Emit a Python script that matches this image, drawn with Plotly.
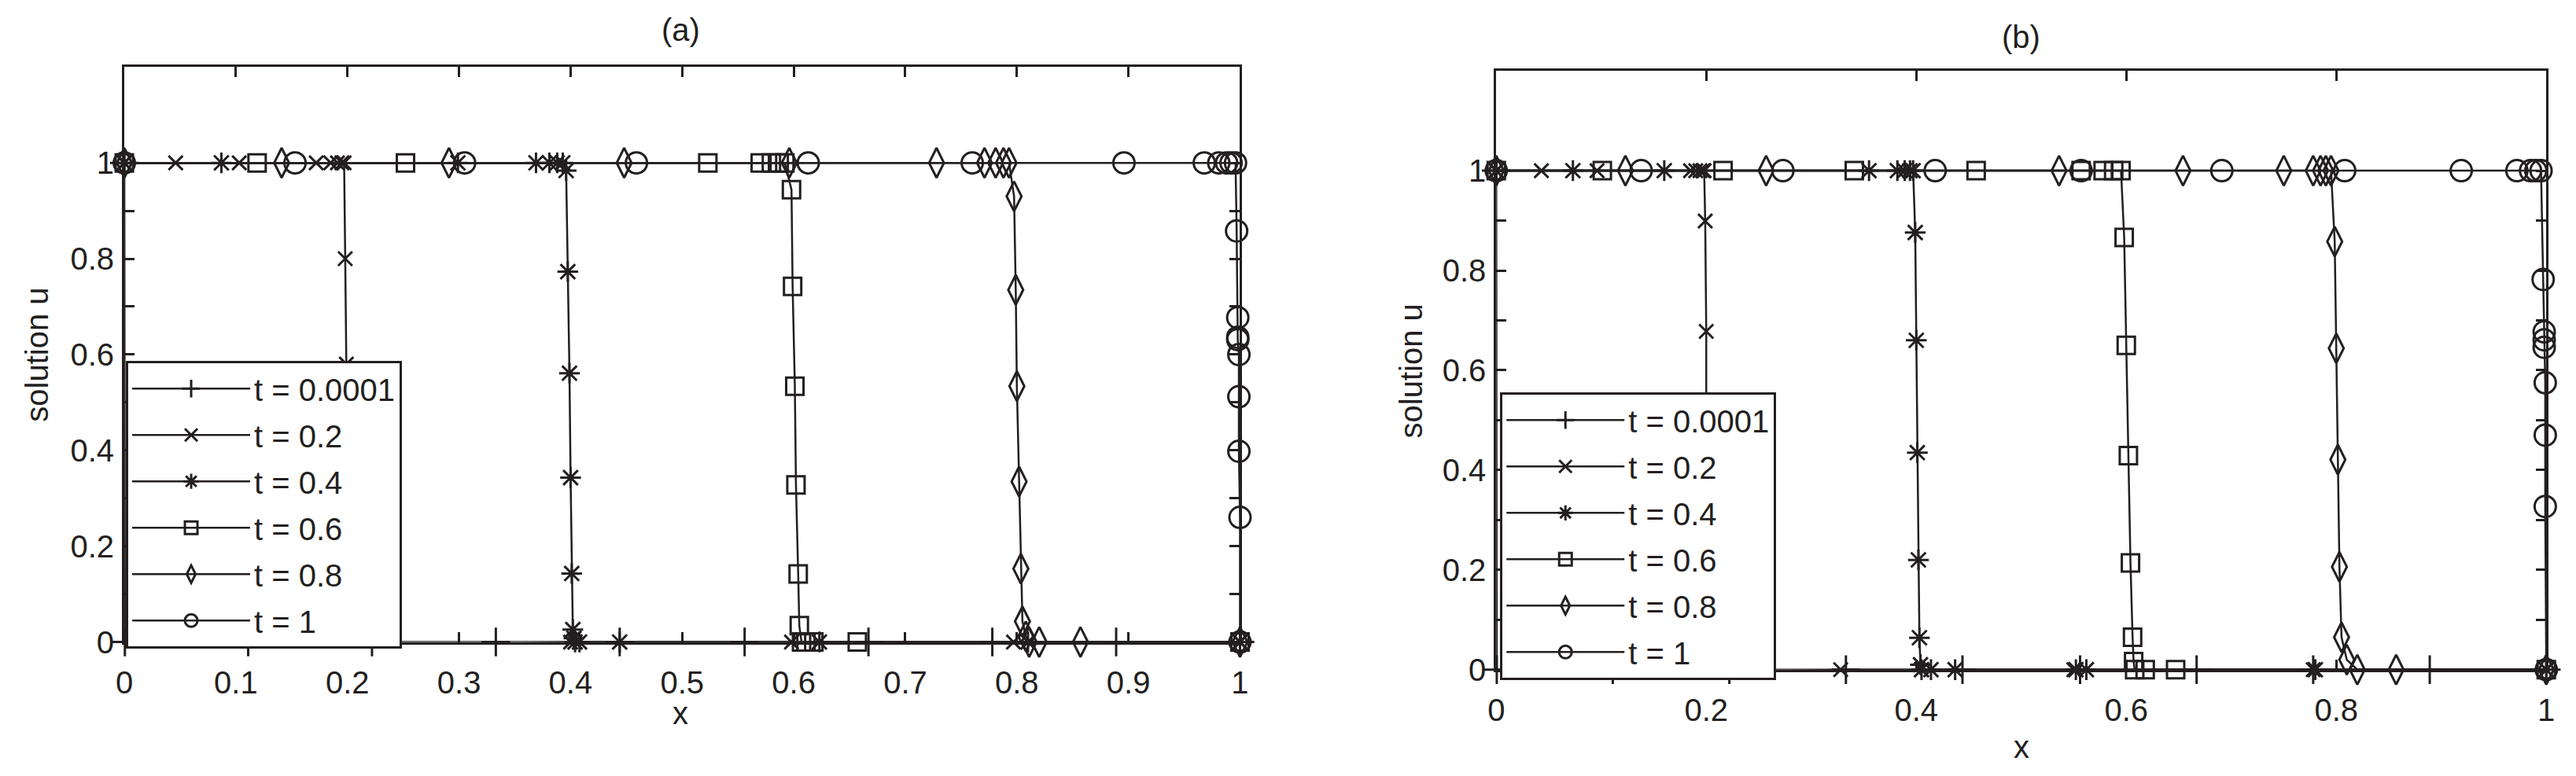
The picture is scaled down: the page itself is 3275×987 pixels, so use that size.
import plotly.graph_objects as go

W, H = 3275, 987
INK = "#231f20"
FONT = "Liberation Sans, Arial, sans-serif"

labels = ["t = 0.0001", "t = 0.2", "t = 0.4", "t = 0.6", "t = 0.8", "t = 1"]
symbols = ["cross-thin", "x-thin", "asterisk", "square-open", "diamond-tall-open", "circle-open"]
msizes = [26, 18, 22, 22, 27, 27]

# ---- panel (a) ----
xa_0001 = [0, 0.0005, 0.111, 0.222, 0.333, 0.444, 0.556, 0.667, 0.778, 0.889, 1.0]
ua_0001 = [1, 0, 0, 0, 0, 0, 0, 0, 0, 0, 0]

xa_02 = [0, 0.046, 0.103, 0.172, 0.185, 0.191, 0.195, 0.197, 0.198, 0.199, 0.200, 0.200, 0.201,
         0.208, 0.232, 0.40, 0.598, 0.797, 1.0]
ua_02 = [1, 1, 1, 1, 1, 1, 1, 1, 0.80, 0.58, 0.36, 0.15, 0.03, -0.01, -0.01, 0, 0, 0, 0]

xa_04 = [0, 0.087, 0.299, 0.369, 0.381, 0.388, 0.393, 0.396, 0.3975, 0.399, 0.400, 0.401, 0.402,
         0.403, 0.404, 0.408, 0.444, 0.623, 0.81, 1.0]
ua_04 = [1, 1, 1, 1, 1, 1, 1, 0.984, 0.773, 0.561, 0.343, 0.143, 0.026, 0.008, 0, 0, 0, 0, 0, 0]

xa_06 = [0, 0.119, 0.252, 0.523, 0.570, 0.580, 0.587, 0.592, 0.598, 0.599, 0.601, 0.602, 0.604,
         0.605, 0.607, 0.611, 0.618, 0.657, 1.0]
ua_06 = [1, 1, 1, 1, 1, 1, 1, 1, 0.944, 0.742, 0.534, 0.328, 0.142, 0.034, 0, 0, 0, 0, 0]

xa_08 = [0, 0.141, 0.291, 0.448, 0.596, 0.728, 0.771, 0.781, 0.788, 0.793, 0.7975, 0.799, 0.800,
         0.802, 0.8036, 0.805, 0.808, 0.811, 0.820, 0.857, 1.0]
ua_08 = [1, 1, 1, 1, 1, 1, 1, 1, 1, 1, 0.930, 0.735, 0.534, 0.335, 0.153, 0.043, 0.012, 0, 0, 0, 0]

xa_1 = [0, 0.153, 0.305, 0.459, 0.613, 0.760, 0.896, 0.968, 0.981, 0.988, 0.992, 0.996, 0.997,
        0.998, 0.998, 0.998, 0.999, 0.999, 0.999, 1.0, 1.0]
ua_1 = [1, 1, 1, 1, 1, 1, 1, 1, 1, 1, 1, 1, 0.858, 0.677, 0.636, 0.631, 0.600, 0.512, 0.398, 0.26, 0]

# ---- panel (b) ----
xb_0001 = [0, 0.0005, 0.111, 0.222, 0.333, 0.444, 0.556, 0.667, 0.778, 0.889, 1.0]
ub_0001 = [1, 0, 0, 0, 0, 0, 0, 0, 0, 0, 0]

xb_02 = [0, 0.043, 0.096, 0.185, 0.190, 0.194, 0.197, 0.198, 0.199, 0.200, 0.200, 0.201, 0.201,
         0.21, 0.225, 0.328, 0.55, 0.778, 1.0]
ub_02 = [1, 1, 1, 1, 1, 1, 1, 1, 0.899, 0.678, 0.45, 0.22, 0.05, -0.005, -0.005, 0, 0, 0, 0]

xb_04 = [0, 0.073, 0.16, 0.355, 0.382, 0.389, 0.394, 0.397, 0.399, 0.400, 0.401, 0.402, 0.403,
         0.404, 0.405, 0.414, 0.437, 0.552, 0.562, 0.78, 1.0]
ub_04 = [1, 1, 1, 1, 1, 1, 1, 1, 0.876, 0.660, 0.435, 0.220, 0.064, 0.01, 0, 0, 0, 0, 0, 0, 0]

xb_06 = [0, 0.101, 0.216, 0.341, 0.457, 0.557, 0.578, 0.588, 0.595, 0.598, 0.600, 0.602, 0.604,
         0.606, 0.607, 0.608, 0.618, 0.647, 1.0]
ub_06 = [1, 1, 1, 1, 1, 1, 1, 1, 1, 0.866, 0.650, 0.429, 0.214, 0.065, 0.016, 0, 0, 0, 0]

xb_08 = [0, 0.123, 0.257, 0.536, 0.654, 0.750, 0.778, 0.785, 0.790, 0.795, 0.7985, 0.800, 0.8015,
         0.803, 0.805, 0.81, 0.82, 0.857, 1.0]
ub_08 = [1, 1, 1, 1, 1, 1, 1, 1, 1, 1, 0.858, 0.644, 0.421, 0.206, 0.065, 0.02, 0, 0, 0]

xb_1 = [0, 0.138, 0.273, 0.418, 0.557, 0.691, 0.808, 0.919, 0.972, 0.985, 0.990, 0.995, 0.997,
        0.998, 0.998, 0.998, 0.999, 0.999, 0.999, 1.0]
ub_1 = [1, 1, 1, 1, 1, 1, 1, 1, 1, 1, 1, 1, 0.782, 0.677, 0.661, 0.646, 0.575, 0.470, 0.327, 0]

panel_a = [(xa_0001, ua_0001), (xa_02, ua_02), (xa_04, ua_04), (xa_06, ua_06), (xa_08, ua_08), (xa_1, ua_1)]
panel_b = [(xb_0001, ub_0001), (xb_02, ub_02), (xb_04, ub_04), (xb_06, ub_06), (xb_08, ub_08), (xb_1, ub_1)]

y_ticks = [0, 0.2, 0.4, 0.6, 0.8, 1]
y_ticktext = ["0", "0.2", "0.4", "0.6", "0.8", "1"]
y_minor = [0.1, 0.3, 0.5, 0.7, 0.9]
xa_ticks = [0, 0.1, 0.2, 0.3, 0.4, 0.5, 0.6, 0.7, 0.8, 0.9, 1]
xa_ticktext = ["0", "0.1", "0.2", "0.3", "0.4", "0.5", "0.6", "0.7", "0.8", "0.9", "1"]
xb_ticks = [0, 0.2, 0.4, 0.6, 0.8, 1]
xb_ticktext = ["0", "0.2", "0.4", "0.6", "0.8", "1"]

fig = go.Figure()

for panel, xref, yref, leg in [(panel_a, "x", "y", "legend"), (panel_b, "x2", "y2", "legend2")]:
    for i, (xs, us) in enumerate(panel):
        fig.add_trace(go.Scatter(
            x=xs, y=us, xaxis=xref, yaxis=yref, name=labels[i],
            mode="lines+markers", legend=leg, legendgroup=leg + str(i),
            line=dict(color=INK, width=2.5),
            marker=dict(symbol=symbols[i], size=msizes[i], color=INK,
                        line=dict(color=INK, width=3)),
            cliponaxis=False,
        ))


def px_x(p):
    return p / W


def px_y(p):
    return 1 - p / H


axis_common = dict(
    showline=True, linecolor=INK, linewidth=3, mirror="allticks",
    ticks="inside", ticklen=13, tickwidth=3, tickcolor=INK,
    showgrid=False, zeroline=False, tickmode="array",
)
minor_y = dict(tickvals=y_minor, ticks="inside", ticklen=13, tickwidth=3, tickcolor=INK, showgrid=False)

legend_common = dict(xanchor="left", yanchor="top", bgcolor="white", bordercolor=INK, borderwidth=3,
                     font=dict(size=40), itemwidth=150, tracegroupgap=4, traceorder="grouped")

fig.update_layout(
    width=W, height=H,
    margin=dict(l=0, r=0, t=0, b=0),
    paper_bgcolor="white", plot_bgcolor="white",
    font=dict(family=FONT, color=INK, size=40),
    xaxis=dict(axis_common, domain=[px_x(140), px_x(1568)], range=[0, 1], anchor="y",
               tickvals=xa_ticks, ticktext=xa_ticktext, tickfont=dict(size=40), ticklabelstandoff=14),
    yaxis=dict(axis_common, domain=[px_y(827), px_y(79)], range=[0, 1.2], anchor="x",
               tickvals=y_ticks, ticktext=y_ticktext, tickfont=dict(size=40), minor=minor_y,
               ticklabelstandoff=2),
    xaxis2=dict(axis_common, domain=[px_x(1896), px_x(3240)], range=[0, 1], anchor="y2",
                tickvals=xb_ticks, ticktext=xb_ticktext, tickfont=dict(size=40), ticklabelstandoff=14),
    yaxis2=dict(axis_common, domain=[px_y(863), px_y(84)], range=[0, 1.2], anchor="x2",
                tickvals=y_ticks, ticktext=y_ticktext, tickfont=dict(size=40), minor=minor_y,
                ticklabelstandoff=2),
    legend=dict(legend_common, x=px_x(142), y=px_y(461)),
    legend2=dict(legend_common, x=px_x(1901), y=px_y(502)),
    showlegend=True,
)

notes = [
    ("(a)", 852, 31, 0), ("(b)", 2568, 40, 0),
    ("x", 852, 919, 0), ("x", 2568, 963, 0),
    ("solution u", 28, 453, -90), ("solution u", 1787, 474, -90),
]
for text, ax_, ay_, ang in notes:
    fig.add_annotation(text=text, x=px_x(ax_), y=px_y(ay_), xref="paper", yref="paper",
                       showarrow=False, textangle=ang, font=dict(size=40, family=FONT, color=INK),
                       xanchor="center", yanchor="middle")

fig.write_html("out.html")
